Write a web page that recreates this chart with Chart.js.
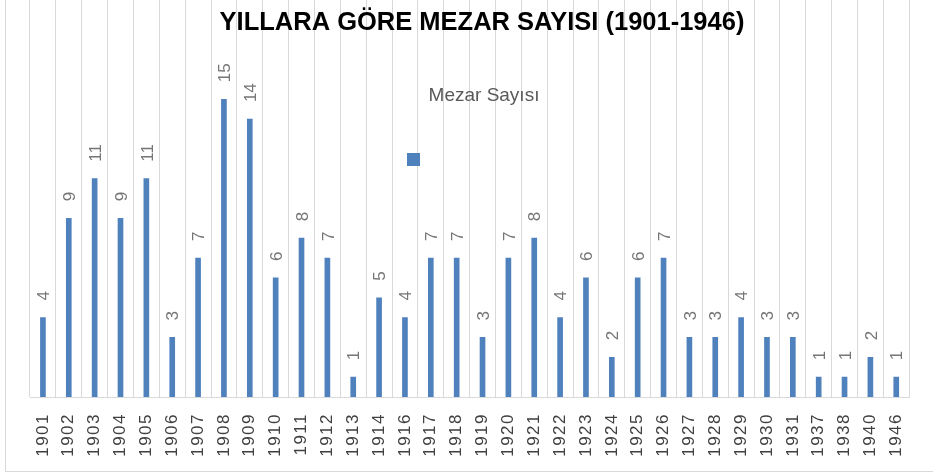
<!DOCTYPE html>
<html>
<head>
<meta charset="utf-8">
<script src="https://cdn.jsdelivr.net/npm/chart.js@4"></script>
<style>
  html, body { margin: 0; padding: 0; background: #fff; }
  #wrap { position: relative; width: 933px; height: 475px; overflow: hidden; }
  #frame { position: absolute; left: 5px; top: -10px; width: 960px; height: 482px; border: 1px solid #d9d9d9; box-sizing: border-box; pointer-events: none; }
  canvas { display: block; }
</style>
</head>
<body>
<div id="wrap">
  <canvas id="c" width="933" height="475"></canvas>
  <div id="frame"></div>
</div>
<script>
const chartTitle = 'YILLARA GÖRE MEZAR SAYISI (1901-1946)';
const seriesName = 'Mezar Sayısı';
const years = ['1901','1902','1903','1904','1905','1906','1907','1908','1909','1910','1911','1912','1913','1914','1916','1917','1918','1919','1920','1921','1922','1923','1924','1925','1926','1927','1928','1929','1930','1931','1937','1938','1940','1946'];
const counts = [4,9,11,9,11,3,7,15,14,6,8,7,1,5,4,7,7,3,7,8,4,6,2,6,7,3,3,4,3,3,1,1,2,1];
const barColor = '#4f81bd';
const FONT = '"Liberation Sans", Arial, sans-serif';

const tickSpacing = {
  id: 'tickSpacing',
  beforeDraw(chart) {
    const sc = chart.scales.x;
    if (!sc._wrapped) {
      const orig = sc.drawLabels;
      sc.drawLabels = function(area) {
        const ctx = this.ctx;
        ctx.save();
        ctx.letterSpacing = '1.5px';
        orig.call(this, area);
        ctx.restore();
      };
      sc._wrapped = true;
    }
  }
};

const dataLabels = {
  id: 'dataLabels',
  afterDatasetsDraw(chart) {
    const ctx = chart.ctx;
    const meta = chart.getDatasetMeta(0);
    const ds = chart.data.datasets[0];
    ctx.save();
    ctx.font = '17px ' + FONT;
    ctx.fillStyle = '#767676';
    ctx.textAlign = 'left';
    ctx.textBaseline = 'middle';
    meta.data.forEach((el, i) => {
      ctx.save();
      ctx.translate(el.x + 1.5, el.y - 17);
      ctx.rotate(-Math.PI / 2);
      ctx.fillText(String(ds.data[i]), 0, 0);
      ctx.restore();
    });
    ctx.restore();
  }
};

const headerText = {
  id: 'headerText',
  afterDraw(chart) {
    const ctx = chart.ctx;
    ctx.save();
    ctx.font = 'bold 25.5px ' + FONT;
    ctx.fillStyle = '#000000';
    ctx.textAlign = 'center';
    ctx.textBaseline = 'middle';
    ctx.fillText(chartTitle, 482, 23);
    ctx.font = '19px ' + FONT;
    ctx.fillStyle = '#595959';
    ctx.fillText(seriesName, 484, 96);
    ctx.fillStyle = barColor;
    ctx.fillRect(407, 153, 13, 13);
    ctx.restore();
  }
};

new Chart(document.getElementById('c'), {
  type: 'bar',
  data: {
    labels: years,
    datasets: [{
      label: seriesName,
      data: counts,
      backgroundColor: barColor,
      borderWidth: 0,
      barThickness: 5
    }]
  },
  options: {
    responsive: false,
    animation: false,
    layout: { padding: { left: 30, right: 23, top: 0, bottom: 0 } },
    plugins: {
      legend: { display: false },
      title: { display: false },
      tooltip: { enabled: false }
    },
    scales: {
      x: {
        offset: true,
        grid: { display: true, offset: true, color: '#d9d9d9', lineWidth: 1, drawTicks: false },
        border: { display: true, color: '#d9d9d9', width: 1 },
        ticks: {
          autoSkip: false,
          maxRotation: 90,
          minRotation: 90,
          padding: 16,
          color: '#404040',
          font: { family: FONT, size: 17 }
        },
        afterFit(scale) { scale.height = 78; }
      },
      y: {
        display: false,
        min: 0,
        max: 20
      }
    }
  },
  plugins: [tickSpacing, dataLabels, headerText]
});
</script>
</body>
</html>
